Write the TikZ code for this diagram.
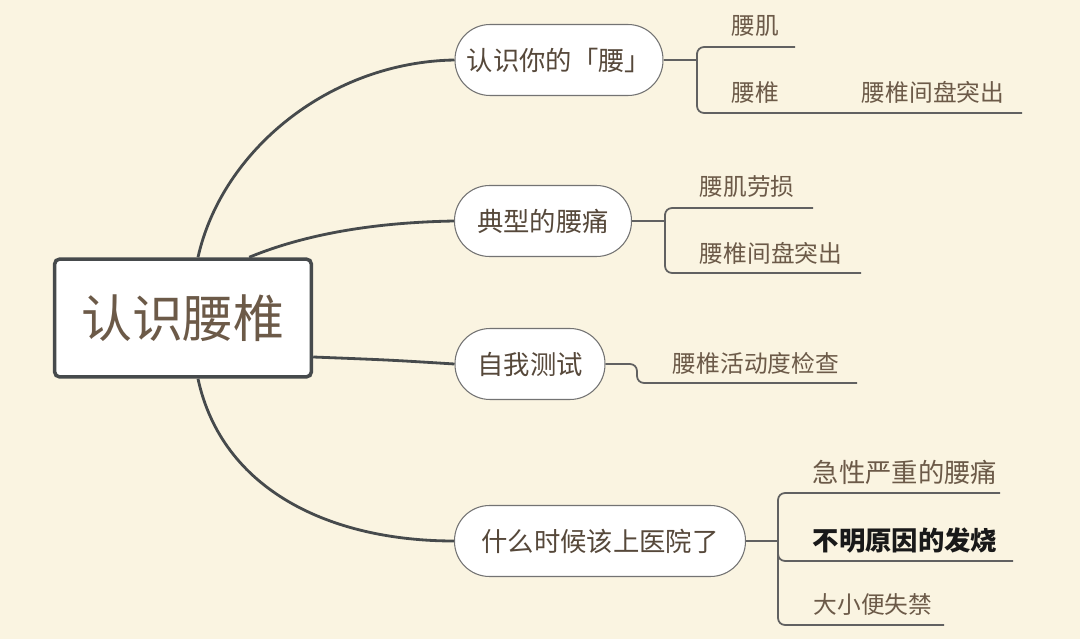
\documentclass[tikz,border=0pt]{standalone}
\usepackage{fontspec}
\newfontfamily\cjk{Noto Sans CJK SC}
\usetikzlibrary{calc}
\definecolor{paper}{RGB}{250,244,225}
\definecolor{ink}{RGB}{108,90,72}
\definecolor{wire}{RGB}{70,74,76}
\tikzset{
  root/.style={draw=wire, line width=2pt, fill=white, rounded corners=3pt,
    minimum width=5.14cm, minimum height=2.36cm, text=ink,
    font=\cjk\fontsize{29}{30}\selectfont},
  topic/.style={draw=black!55, line width=0.6pt, fill=white, rounded corners=0.7cm,
    minimum height=1.42cm, text=ink!80!black, font=\cjk\fontsize{15}{16}\selectfont},
  leaf/.style={text=ink, font=\cjk\fontsize{13.5}{15}\selectfont},
  branch/.style={draw=wire, line width=1.6pt},
  twig/.style={draw=black!62, line width=1pt, rounded corners=4pt},
}

\begin{document}
\begin{tikzpicture}
[x=0.02cm, y=-0.02cm]
\fill[paper] (0,0) rectangle (1080,639); %% page
\useasboundingbox (0,0) rectangle (1080,639);
%%
\node[root] (root) at (183,318) {认识腰椎};
\node[topic, minimum width=4.16cm] (waist)  at (559,60)  {认识你的「腰」};
\node[topic, minimum width=3.54cm] (pain)   at (543,221) {典型的腰痛};
\node[topic, minimum width=3.0cm]  (test)   at (530,364) {自我测试};
\node[topic, minimum width=5.82cm] (doctor) at (600,541) {什么时候该上医院了};
%%
\draw[branch] ($(root.north)+(15,0)$) .. controls (222,150) and (330,62) .. (waist.west);
\draw[branch] ($(root.north east)+(-64,0)$) .. controls (320,228) and (400,222) .. (pain.west);
\draw[branch] ($(root.east)+(0,39)$) .. controls (390,360) .. (test.west);
\draw[branch] ($(root.south)+(15,0)$) .. controls (222,490) and (330,541) .. (doctor.west);
%% leaves
\node[leaf] (muscle) at (755,26)  {腰肌};
\node[leaf] (spine)  at (755,92)  {腰椎};
\node[leaf] (disc)   at (933,92)  {腰椎间盘突出};
\node[leaf] (strain) at (747,187) {腰肌劳损};
\node[leaf] (disc2)  at (771,253) {腰椎间盘突出};
\node[leaf] (motion) at (756,363) {腰椎活动度检查};
\node[leaf, font=\cjk\fontsize{15}{16}\selectfont] (acute) at (905,472) {急性严重的腰痛};
\node[leaf, text=black!90, font=\cjk\bfseries\fontsize{15}{16}\selectfont] (fever) at (905,540) {不明原因的发烧};
\node[leaf] (incont) at (873,605) {大小便失禁};
%% brackets
\coordinate (k1) at (697,60);
\coordinate (muscle-end) at (795,47);
\coordinate (disc-end) at (1022,113);
\draw[twig] (waist.east) -- (k1);
\draw[twig] (muscle-end) -| (k1) |- (disc-end);
%%
\coordinate (k2) at (665,221);
\coordinate (strain-end) at (813,208);
\coordinate (disc2-end) at (861,273);
\draw[twig] (pain.east) -- (k2);
\draw[twig] (strain-end) -| (k2) |- (disc2-end);
%%
\coordinate (k3) at (637,364);
\coordinate (motion-end) at (857,383);
\draw[twig] (test.east) -- (k3) |- (motion-end);
%%
\coordinate (k4) at (778,541);
\coordinate (acute-end) at (1000,493);
\coordinate (fever-end) at (1013,561);
\coordinate (incont-end) at (944,625);
\draw[twig] (doctor.east) -- (k4);
\draw[twig] (acute-end) -| (k4) |- (incont-end);
\draw[twig] (k4) |- (fever-end);
\end{tikzpicture}
\end{document}
